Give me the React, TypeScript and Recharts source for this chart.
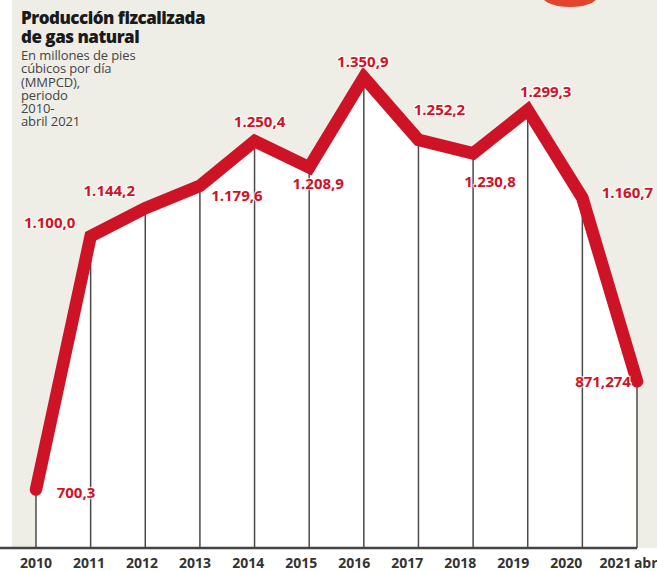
import React from 'react';
import { ComposedChart, Area, Line, XAxis, YAxis, ReferenceLine, LabelList } from 'recharts';

const years = ['2010', '2011', '2012', '2013', '2014', '2015', '2016', '2017', '2018', '2019', '2020', '2021 abr'];
const production = [700.3, 1100.0, 1144.2, 1179.6, 1250.4, 1208.9, 1350.9, 1252.2, 1230.8, 1299.3, 1160.7, 871.274];
const valueLabels = ['700,3', '1.100,0', '1.144,2', '1.179,6', '1.250,4', '1.208,9', '1.350,9', '1.252,2', '1.230,8', '1.299,3', '1.160,7', '871,274'];

// where each value label sits relative to its point (dx, dy)
const labelOffsets = [
  [40, 3], [-41, -13], [-36, -17], [37, 10], [5, -19], [9, 17],
  [-1, -15], [21, -30], [17, 29], [18, -18], [45, -5], [-34, 1],
];

const Y_MIN = 608;
const Y_MAX = 1473;

const data = years.map((year, i) => ({ year, value: production[i] }));

const RED = '#cf1327';
const GREY_BG = '#eeeee7';

const YearTick = (props: any) => {
  const { x, y, payload, index } = props;
  const [main, suffix] = String(payload.value).split(' ');
  // the printed year labels drift slightly left of their grid lines
  const cx = x - 1.6 * index - (suffix ? 4 : 0);
  return (
    <g>
      <text x={cx} y={y} dy={20} textAnchor="middle" fontFamily="Open Sans" fontWeight={700} fontSize={14} fill="#333">
        {main}
      </text>
      {suffix && (
        <text x={cx + 18.5} y={y} dy={20} textAnchor="start" fontFamily="Open Sans" fontWeight={700} fontSize={14} fill="#333">
          {suffix}
        </text>
      )}
    </g>
  );
};

const ValueLabel = (props: any) => {
  const { x, y, index } = props;
  const [dx, dy] = labelOffsets[index];
  return (
    <text
      x={x + dx}
      y={y + dy}
      dy={5}
      textAnchor="middle"
      fontFamily="Open Sans"
      fontWeight={700}
      fontSize={15}
      fill={RED}
      stroke="#ffffff"
      strokeWidth={2.5}
      strokeOpacity={0.7}
      paintOrder="stroke"
    >
      {valueLabels[index]}
    </text>
  );
};

export default function App() {
  return (
    <div style={{ position: 'absolute', left: 0, top: 0, width: 657, height: 571, background: '#fff', overflow: 'hidden' }}>
      <div style={{ position: 'absolute', left: 12, top: 0, width: 645, height: 548, background: GREY_BG }} />
      <div
        style={{
          position: 'absolute', left: 543, top: -13, width: 54, height: 20,
          borderRadius: '50%', background: '#e4442c',
        }}
      />
      <div style={{ position: 'absolute', left: 0, top: 0 }}>
        <ComposedChart width={657} height={571} data={data} margin={{ top: 0, right: 20, left: 0, bottom: 0 }}>
          <XAxis
            dataKey="year"
            padding={{ left: 36, right: 0 }}
            height={23}
            tickLine={false}
            tickSize={0}
            tickMargin={0}
            interval={0}
            axisLine={{ stroke: '#444', strokeWidth: 2.5 }}
            tick={<YearTick />}
          />
          <YAxis hide domain={[Y_MIN, Y_MAX]} />
          <Area
            type="linear"
            dataKey="value"
            stroke="none"
            fill="#ffffff"
            fillOpacity={1}
            dot={false}
            activeDot={false}
            isAnimationActive={false}
          />
          {data.map((d) => (
            <ReferenceLine
              key={d.year}
              segment={[{ x: d.year, y: Y_MIN }, { x: d.year, y: d.value }]}
              stroke="#4a4a4a"
              strokeWidth={1.5}
            />
          ))}
          <Line
            type="linear"
            dataKey="value"
            stroke={RED}
            strokeWidth={12.5}
            strokeLinejoin="miter"
            strokeLinecap="round"
            dot={false}
            activeDot={false}
            isAnimationActive={false}
          >
            <LabelList dataKey="value" content={<ValueLabel />} />
          </Line>
        </ComposedChart>
      </div>
      <div style={{ position: 'absolute', left: 21, top: 8, fontFamily: 'Open Sans', color: '#1a1a1a' }}>
        <div style={{ fontWeight: 800, fontSize: 17, lineHeight: '19px', letterSpacing: -0.5 }}>
          Producción fizcalizada
          <br />
          de gas natural
        </div>
        <div style={{ fontSize: 13, lineHeight: '13.3px', color: '#444', marginTop: 3, letterSpacing: -0.1 }}>
          En millones de pies
          <br />
          cúbicos por día
          <br />
          (MMPCD),
          <br />
          periodo
          <br />
          2010-
          <br />
          abril 2021
        </div>
      </div>
    </div>
  );
}
